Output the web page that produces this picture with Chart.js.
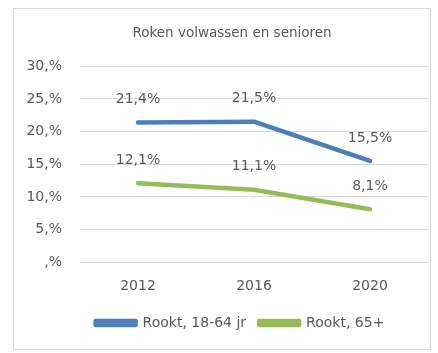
<!DOCTYPE html>
<html>
<head>
<meta charset="utf-8">
<script src="https://cdn.jsdelivr.net/npm/chart.js@4/dist/chart.umd.min.js"></script>
<style>
  body { margin: 0; background: #fff; }
  #wrap { position: relative; width: 438px; height: 353px; }
  #frame { position: absolute; left: 13px; top: 8px; width: 416px; height: 340px; border: 1px solid #d9d9d9; }
  #curve_chart { position: absolute; left: 0; top: 0; }
</style>
</head>
<body>
<div id="wrap">
  <div id="frame"></div>
  <canvas id="curve_chart" width="438" height="353"></canvas>
</div>
<script>
const years = ['2012', '2016', '2020'];
const adults = [21.4, 21.5, 15.5];
const seniors = [12.1, 11.1, 8.1];
const yTickLabels = [',%', '5,%', '10,%', '15,%', '20,%', '25,%', '30,%'];

const textColor = '#595959';
const font = 'DejaVu Sans';

// value labels above each point, "21,4%" style
const pointLabels = {
    id: 'pointLabels',
    afterLayout(chart) {
        // title and legend sit a bit right of the canvas middle
        chart.titleBlock.left = 36;
        chart.titleBlock.right = 428;
        chart.legend.left = 52;
        chart.legend.right = 428;
    },
    afterDatasetsDraw(chart) {
        const c = chart.ctx;
        c.save();
        c.font = '14px "' + font + '"';
        c.fillStyle = textColor;
        c.textAlign = 'center';
        c.textBaseline = 'middle';
        chart.data.datasets.forEach((ds, i) => {
            chart.getDatasetMeta(i).data.forEach((pt, j) => {
                const txt = ds.data[j].toFixed(1).replace('.', ',') + '%';
                c.fillText(txt, pt.x, pt.y - 23);
            });
        });
        c.restore();
    }
};

const ctx = document.getElementById('curve_chart').getContext('2d');
const myChart = new Chart(ctx, {
    type: 'line',
    data: {
        labels: years,
        datasets: [{
            label: 'Rookt, 18-64 jr',
            data: adults,
            borderColor: '#4f7fbb',
            backgroundColor: '#4f7fbb',
        },{
            label: 'Rookt, 65+',
            data: seniors,
            borderColor: '#98bb59',
            backgroundColor: '#98bb59',
        }]
    },
    options: {
        responsive: false,
        animation: false,
        layout: { padding: { left: 16, right: 10, top: 0, bottom: 13 } },
        elements: {
            line: { borderWidth: 4.5, borderCapStyle: 'round', borderJoinStyle: 'round', tension: 0 },
            point: { radius: 0, hoverRadius: 0 }
        },
        scales: {
            x: {
                offset: true,
                grid: { display: false },
                border: { display: false },
                ticks: { color: textColor, font: { family: font, size: 14 }, padding: 8 }
            },
            y: {
                min: 0,
                max: 30,
                afterFit(axis) { axis.width = 64; },
                grid: { color: '#d9d9d9', drawTicks: false },
                border: { display: false },
                ticks: {
                    stepSize: 5,
                    color: textColor,
                    font: { family: font, size: 14 },
                    padding: 18,
                    callback: (v, i) => yTickLabels[i]
                }
            }
        },
        plugins: {
            title: {
                display: true,
                text: 'Roken volwassen en senioren',
                color: textColor,
                font: { family: font, size: 13.5, weight: 'normal' },
                padding: { top: 25, bottom: 25 }
            },
            legend: {
                position: 'bottom',
                labels: {
                    color: textColor,
                    font: { family: font, size: 14 },
                    boxWidth: 40,
                    boxHeight: 4,
                    padding: 13
                }
            },
            tooltip: { enabled: false }
        }
    },
    plugins: [pointLabels]
});
</script>
</body>
</html>
